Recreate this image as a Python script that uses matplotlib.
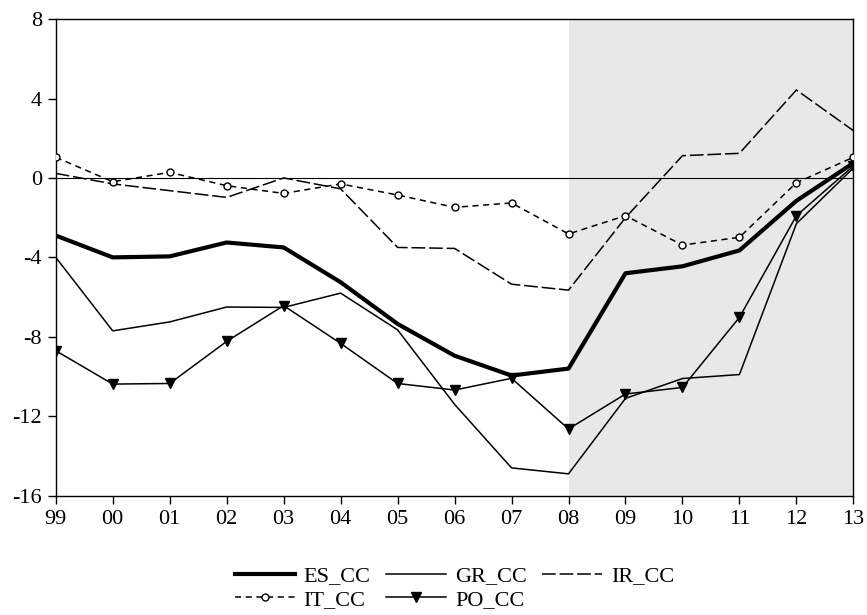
import matplotlib
matplotlib.use('Agg')
import matplotlib.pyplot as plt
import numpy as np

plt.rcParams['font.family'] = ['Liberation Serif', 'DejaVu Serif']

years = ['99', '00', '01', '02', '03', '04', '05', '06', '07', '08', '09', '10', '11', '12', '13']
es_cc = [-2.9, -4.0, -3.95, -3.25, -3.5, -5.25, -7.35, -8.95, -9.95, -9.6, -4.8, -4.45, -3.65, -1.15, 0.75]
gr_cc = [-4.0, -7.7, -7.25, -6.5, -6.52, -5.8, -7.65, -11.4, -14.6, -14.9, -11.1, -10.1, -9.9, -2.3, 0.5]
ir_cc = [0.23, -0.3, -0.64, -0.98, 0.0, -0.55, -3.5, -3.55, -5.35, -5.65, -2.0, 1.12, 1.24, 4.43, 2.38]
it_cc = [1.04, -0.19, 0.28, -0.39, -0.78, -0.3, -0.86, -1.48, -1.26, -2.82, -1.9, -3.38, -2.99, -0.24, 1.04]
po_cc = [-8.7, -10.38, -10.35, -8.23, -6.43, -8.33, -10.35, -10.68, -10.09, -12.64, -10.88, -10.55, -7.02, -1.9, 0.6]

x = np.arange(len(years))

fig = plt.figure(figsize=(8.67, 6.15), dpi=100)
ax = fig.add_axes([0.0643, 0.194, 0.92, 0.775])

# shaded period 08-13
ax.axvspan(years.index('08'), x[-1], color='#e8e8e8', lw=0, zorder=0)
ax.axhline(0, color='black', lw=0.8, zorder=1)

l_es, = ax.plot(x, es_cc, color='black', lw=3.0, label='ES_CC', zorder=3)
l_gr, = ax.plot(x, gr_cc, color='black', lw=1.1, label='GR_CC', zorder=3)
l_ir, = ax.plot(x, ir_cc, color='black', lw=1.1, dashes=(9, 2.5), label='IR_CC', zorder=3)
l_it, = ax.plot(x, it_cc, color='black', lw=1.1, dashes=(4, 3), marker='o', ms=5,
                mfc='white', mec='black', mew=1.0, label='IT_CC', zorder=4)
l_po, = ax.plot(x, po_cc, color='black', lw=1.1, marker='v', ms=7,
                mfc='black', mec='black', label='PO_CC', zorder=4)

ax.set_xlim(0, x[-1])
ax.set_ylim(-16, 8)
ax.set_xticks(x)
ax.set_xticklabels(years)
ax.set_yticks([8, 4, 0, -4, -8, -12, -16])
ax.set_yticklabels(['8', '4', '0', '-4', '-8', '-12', '-16'])
ax.tick_params(direction='out', length=6, width=1, labelsize=16, pad=4)
for s in ax.spines.values():
    s.set_linewidth(1.0)

# reorder so ncol=3 fills row by row
handles = [l_es, l_it, l_gr, l_po, l_ir]
ax.legend(handles=handles, labels=[h.get_label() for h in handles], ncol=3,
          loc='upper center', bbox_to_anchor=(0.5, -0.105), frameon=False,
          fontsize=16, handlelength=2.7, columnspacing=0.7, labelspacing=0.15,
          handletextpad=0.4)

fig.savefig('out.png', dpi=100)
